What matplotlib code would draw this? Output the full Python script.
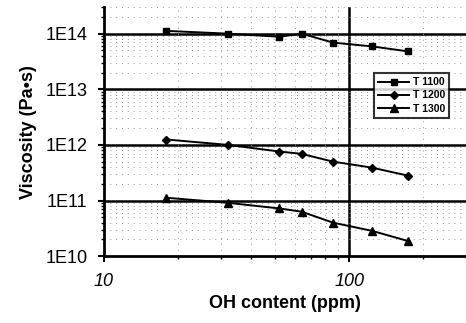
import numpy as np
import matplotlib.pyplot as plt
from matplotlib.ticker import FixedLocator, NullFormatter, LogLocator

# OH content (ppm) and viscosity (Pa*s) at three temperatures
oh = [18, 32, 52, 64, 86, 124, 174]
t1100 = [1.12e14, 1.0e14, 8.8e13, 1.0e14, 6.9e13, 5.9e13, 4.8e13]
t1200 = [1.25e12, 1.0e12, 7.6e11, 6.9e11, 5.0e11, 3.9e11, 2.8e11]
t1300 = [1.12e11, 9.1e10, 7.2e10, 6.3e10, 4.0e10, 2.85e10, 1.87e10]
labels = ['T 1100', 'T 1200', 'T 1300']
yticks = [1e10, 1e11, 1e12, 1e13, 1e14]
yticklabels = ['1E10', '1E11', '1E12', '1E13', '1E14']

plt.rcParams['font.family'] = ['Liberation Sans', 'DejaVu Sans']

fig = plt.figure(figsize=(4.66, 3.23), dpi=100)
ax = fig.add_axes([0.223, 0.207, 0.777, 0.771])
ax.set_xscale('log')
ax.set_yscale('log')
ax.set_xlim(10, 300)
ax.set_ylim(1e10, 3e14)

# minor dotted grid
ax.xaxis.set_minor_locator(LogLocator(base=10, subs=np.arange(2, 10)))
ax.yaxis.set_minor_locator(LogLocator(base=10, subs=np.arange(2, 10)))
ax.grid(which='minor', color='#999999', linestyle=(0, (1, 5)), linewidth=0.7)

# heavy major lines
for y in yticks[1:]:
    ax.axhline(y, color='black', linewidth=1.8, zorder=1)
ax.axvline(100, color='black', linewidth=1.8, zorder=1)

ax.plot(oh, t1100, color='black', marker='s', markersize=5, linewidth=1.4, label=labels[0], zorder=3)
ax.plot(oh, t1200, color='black', marker='D', markersize=4.5, linewidth=1.4, label=labels[1], zorder=3)
ax.plot(oh, t1300, color='black', marker='^', markersize=6, linewidth=1.4, label=labels[2], zorder=3)

ax.set_yticks(yticks)
ax.set_yticklabels(yticklabels, fontsize=13)
ax.yaxis.set_minor_formatter(NullFormatter())
ax.xaxis.set_major_locator(FixedLocator([10, 100]))
ax.set_xticklabels(['10', '100'], fontsize=13, style='italic')
ax.xaxis.set_minor_formatter(NullFormatter())
ax.tick_params(which='major', length=4, width=1.5, pad=8)
ax.tick_params(which='minor', length=2, width=1)

for s in ['left', 'bottom']:
    ax.spines[s].set_linewidth(2)
for s in ['top', 'right']:
    ax.spines[s].set_visible(False)

ax.set_xlabel('OH content (ppm)', fontsize=13, fontweight='bold', labelpad=4)
ax.set_ylabel('Viscosity (Pa\u2022s)', fontsize=13, fontweight='bold', labelpad=6)

leg = ax.legend(loc='upper left', bbox_to_anchor=(0.746, 0.735),
                prop={'weight': 'bold', 'size': 7.5}, frameon=True, fancybox=False,
                edgecolor='black', handlelength=3, borderpad=0.4, labelspacing=0.3,
                handletextpad=0.3, borderaxespad=0)
leg.get_frame().set_linewidth(1.5)
leg.set_zorder(5)

fig.savefig('out.png', dpi=100)
